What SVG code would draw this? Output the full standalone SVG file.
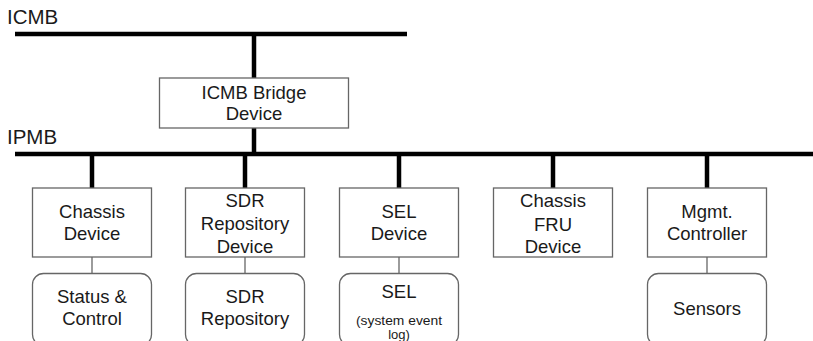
<svg xmlns="http://www.w3.org/2000/svg" width="813" height="341" viewBox="0 0 813 341">
<style>
text{font-family:"Liberation Sans",Arial,sans-serif;fill:#1a1a1a;text-anchor:middle}
.t{font-size:18.5px}
.s{font-size:13px}
.lbl{font-size:20.5px;text-anchor:start}
.box{fill:#fff;stroke:#666;stroke-width:1.3}
.bus{stroke:#000;stroke-width:4.5;fill:none}
.thin{stroke:#666;stroke-width:1.3;fill:none}
</style>
<rect width="813" height="341" fill="#fff"/>
<text class="lbl" x="7" y="24">ICMB</text>
<text class="lbl" x="7" y="144">IPMB</text>
<g id="connectors">
<line class="bus" x1="15" y1="34" x2="407" y2="34"/>
<line class="bus" x1="254" y1="34" x2="254" y2="78"/>
<line class="bus" x1="254" y1="128" x2="254" y2="154"/>
<line class="bus" x1="15" y1="154" x2="813" y2="154"/>
<line class="bus" x1="92" y1="154" x2="92" y2="188"/>
<line class="bus" x1="245" y1="154" x2="245" y2="188"/>
<line class="bus" x1="399" y1="154" x2="399" y2="188"/>
<line class="bus" x1="553" y1="154" x2="553" y2="188"/>
<line class="bus" x1="707" y1="154" x2="707" y2="188"/>
<line class="thin" x1="92" y1="257" x2="92" y2="273"/>
<line class="thin" x1="245" y1="257" x2="245" y2="273"/>
<line class="thin" x1="399" y1="257" x2="399" y2="273"/>
<line class="thin" x1="707" y1="257" x2="707" y2="273"/>
</g>
<g id="bridge">
<rect class="box" x="159.5" y="78" width="189" height="50"/>
<text class="t" x="254" y="98.5">ICMB Bridge</text>
<text class="t" x="254" y="120">Device</text>
</g>
<g id="chassis">
<rect class="box" x="32.5" y="188" width="119" height="69"/>
<text class="t" x="92" y="217.5">Chassis</text>
<text class="t" x="92" y="239.5">Device</text>
</g>
<g id="sdr">
<rect class="box" x="185.5" y="188" width="119" height="69"/>
<text class="t" x="245" y="206.5">SDR</text>
<text class="t" x="245" y="229.5">Repository</text>
<text class="t" x="245" y="252.5">Device</text>
</g>
<g id="sel">
<rect class="box" x="339.5" y="188" width="119" height="69"/>
<text class="t" x="399" y="217.5">SEL</text>
<text class="t" x="399" y="239.5">Device</text>
</g>
<g id="fru">
<rect class="box" x="493.5" y="188" width="119" height="69"/>
<text class="t" x="553" y="206.5">Chassis</text>
<text class="t" x="553" y="230.5">FRU</text>
<text class="t" x="553" y="252.5">Device</text>
</g>
<g id="mgmt">
<rect class="box" x="647.5" y="188" width="119" height="69"/>
<text class="t" x="707" y="217.5">Mgmt.</text>
<text class="t" x="707" y="239.5">Controller</text>
</g>
<g id="status">
<rect class="box" x="32.5" y="273.5" width="119" height="72" rx="11"/>
<text class="t" x="92" y="302.5">Status &amp;</text>
<text class="t" x="92" y="324.5">Control</text>
</g>
<g id="sdrrepo">
<rect class="box" x="185.5" y="273.5" width="119" height="72" rx="11"/>
<text class="t" x="245" y="302.5">SDR</text>
<text class="t" x="245" y="324.5">Repository</text>
</g>
<g id="sellog">
<rect class="box" x="339.5" y="273.5" width="119" height="72" rx="11"/>
<text class="t" x="399" y="298">SEL</text>
<text class="s" x="399" y="325" textLength="86" lengthAdjust="spacingAndGlyphs">(system event</text>
<text class="s" x="399" y="339">log)</text>
</g>
<g id="sensors">
<rect class="box" x="647.5" y="273.5" width="119" height="72" rx="11"/>
<text class="t" x="707" y="314.5">Sensors</text>
</g>
</svg>
